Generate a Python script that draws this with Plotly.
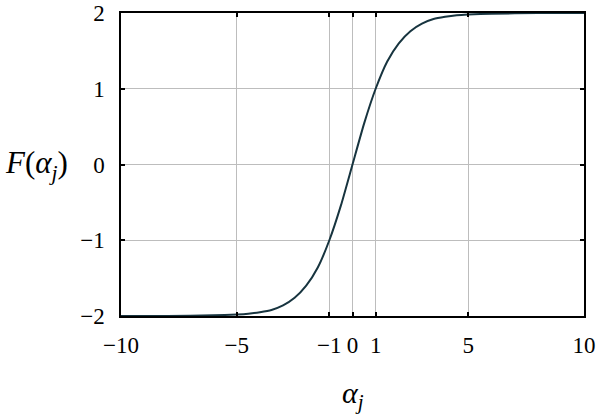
import plotly.graph_objects as go

# values
alpha = [-10, -8, -6, -5, -4.5, -4, -3.5, -3, -2.5, -2, -1.5, -1, -0.5, 0,
         0.5, 1, 1.5, 2, 2.5, 3, 3.5, 4, 4.5, 5, 6, 8, 10]
F_vals = [-2.00, -2.00, -1.99, -1.98, -1.97, -1.95, -1.92, -1.86, -1.76, -1.60, -1.36, -1.00, -0.54, 0.00,
          0.54, 1.00, 1.36, 1.60, 1.76, 1.86, 1.92, 1.95, 1.97, 1.98, 1.99, 2.00, 2.00]

x_tickvals = [-10, -5, -1, 0, 1, 5, 10]
x_ticktext = ["\u221210", "\u22125", "\u22121", "0", "1", "5", "10"]
y_tickvals = [-2, -1, 0, 1, 2]
y_ticktext = ["\u22122", "\u22121", "0", "1", "2"]

FONT = "Liberation Serif"

fig = go.Figure()
fig.add_trace(go.Scatter(x=alpha, y=F_vals, mode="lines",
                         line=dict(color="#17343f", width=2, shape="spline", smoothing=0.5),
                         showlegend=False, hoverinfo="skip"))

axis_common = dict(showline=True, linecolor="black", linewidth=1.5, mirror="ticks",
                   ticks="inside", ticklen=4, tickwidth=1.5, tickcolor="black",
                   showgrid=True, gridcolor="#bdbdbd", gridwidth=1.3, zeroline=False,
                   tickfont=dict(family=FONT, size=23, color="black"), tickangle=0,
                   automargin=False)

fig.update_xaxes(range=[-10, 10], tickmode="array", tickvals=x_tickvals, ticktext=x_ticktext,
                 ticklabelstandoff=8, **axis_common)
fig.update_yaxes(range=[-2, 2], tickmode="array", tickvals=y_tickvals, ticktext=y_ticktext,
                 ticklabelstandoff=10, **axis_common)

fig.add_annotation(text="<i>F</i>(<i>\u03b1<sub>j</sub></i>)", xref="paper", yref="paper",
                   x=-0.255, y=0.5, xanchor="left", yanchor="middle", showarrow=False,
                   font=dict(family=FONT, size=31, color="black"))
fig.add_annotation(text="<i>\u03b1<sub>j</sub></i>", xref="x", yref="paper",
                   x=0, y=-0.26, xanchor="center", yanchor="middle", showarrow=False,
                   font=dict(family=FONT, size=30, color="black"))

fig.update_layout(width=600, height=419, margin=dict(l=121, r=16, t=13, b=103),
                  plot_bgcolor="white", paper_bgcolor="white")

# remove the page's default body margin so the 600x419 figure fills the window
fig.write_html("out.html", config={"displayModeBar": False},
               post_script="document.body.style.margin='0';")
